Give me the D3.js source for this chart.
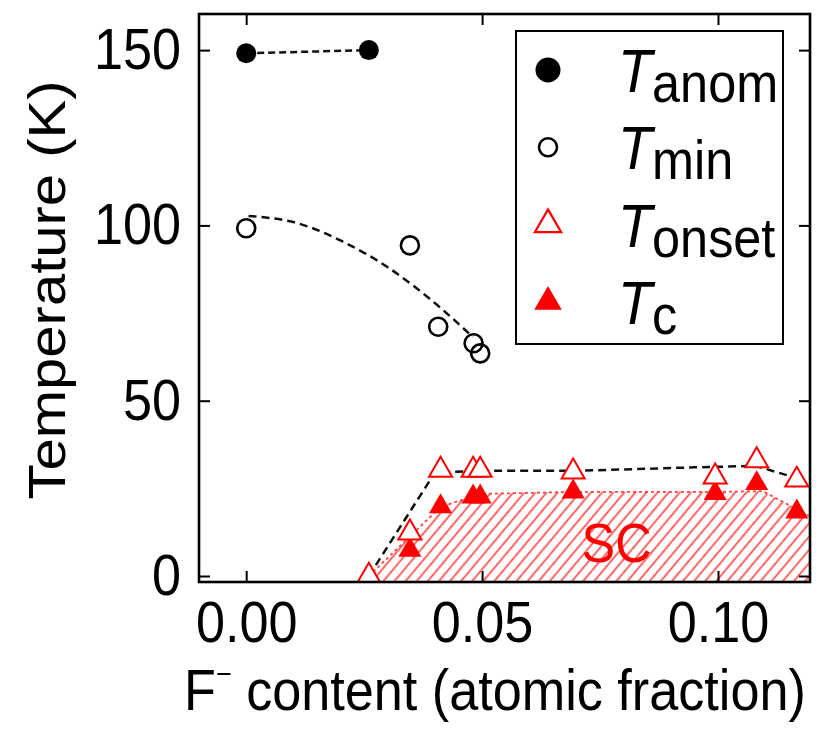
<!DOCTYPE html>
<html>
<head>
<meta charset="utf-8">
<script src="https://cdn.jsdelivr.net/npm/d3@7"></script>
<style>
  body { margin: 0; background: #fff; }
  svg { display: block; font-family: "Liberation Sans", Arial, sans-serif; }
</style>
</head>
<body>
<svg id="chart" width="818" height="734"></svg>
<script>
// tick values
const xTicks = [0, 0.05, 0.10];
const yTicks = [0, 50, 100, 150];

// T_anom (filled black circles)
const anomX = [0, 0.026];
const anomY = [149.1, 150];

// T_min (open black circles)
const minX = [0, 0.0347, 0.0407, 0.0482, 0.0496];
const minY = [99.2, 94.3, 71.1, 66.4, 63.5];

// T_onset (open red triangles)
const onsetX = [0.026, 0.0347, 0.0412, 0.0481, 0.0496, 0.0693, 0.0994, 0.1082, 0.1167];
const onsetY = [0, 12.3, 30.2, 30.2, 30.2, 29.7, 28.3, 32.9, 27.4];

// T_c (filled red triangles)
const tcX = [0.0347, 0.0412, 0.0481, 0.0496, 0.0693, 0.0994, 0.1082, 0.1167];
const tcY = [7.4, 19.8, 22.6, 22.6, 24.0, 23.6, 26.4, 18.3];

// guide lines
const minGuideX = [0.0005, 0.0104, 0.0203, 0.0303, 0.0403, 0.048];
const minGuideY = [102.7, 100.8, 95.5, 87.8, 77.5, 68.2];
const onsetGuideX = [0.026, 0.040, 0.050, 0.070, 0.095, 0.108, 0.117];
const onsetGuideY = [0, 29.5, 30, 30, 31, 31.4, 27.8];
const scGuideX = [0.026, 0.0412, 0.0496, 0.070, 0.100, 0.1095, 0.1195];
const scGuideY = [0, 19.7, 23.4, 24, 24, 24.2, 17];

const legendNames = ["anom", "min", "onset", "c"];

const zip = (xs, ys) => xs.map((v, i) => ({ x: v, y: ys[i] }));

const svg = d3.select("#chart");
const pLeft = 199, pRight = 810, pTop = 14, pBottom = 582;
const SQ = 0.9; // text in the figure is slightly narrow

const x = d3.scaleLinear().domain([-0.0100, 0.1195]).range([pLeft, pRight]);
const y = d3.scaleLinear().domain([-1.71, 160.3]).range([pBottom, pTop]);

const defs = svg.append("defs");
defs.append("clipPath").attr("id", "clip")
  .append("rect").attr("x", pLeft).attr("y", pTop)
  .attr("width", pRight - pLeft).attr("height", pBottom - pTop);

const pat = defs.append("pattern")
  .attr("id", "hatch")
  .attr("patternUnits", "userSpaceOnUse")
  .attr("width", 8.5).attr("height", 8.5)
  .attr("patternTransform", "rotate(40)");
pat.append("line")
  .attr("x1", 4.25).attr("y1", 0).attr("x2", 4.25).attr("y2", 8.5)
  .attr("stroke", "#ff3c3c").attr("stroke-width", 1.6);

const plot = svg.append("g").attr("clip-path", "url(#clip)");

// SC hatched area
const area = d3.area()
  .x(d => x(d.x))
  .y0(y(y.domain()[0]))
  .y1(d => y(d.y));
const scData = zip(scGuideX, scGuideY);
scData.push({ x: x.domain()[1] + 0.002, y: scGuideY[scGuideY.length - 1] });
plot.append("path")
  .datum(scData)
  .attr("fill", "url(#hatch)")
  .attr("d", area);

const line = d3.line().x(d => x(d.x)).y(d => y(d.y));

plot.append("path")
  .datum(zip(scGuideX, scGuideY))
  .attr("fill", "none")
  .attr("stroke", "#ff4040")
  .attr("stroke-width", 1.8)
  .attr("stroke-dasharray", "3,3")
  .attr("d", line);

plot.append("path")
  .datum(zip(onsetGuideX, onsetGuideY))
  .attr("fill", "none")
  .attr("stroke", "#111")
  .attr("stroke-width", 2.5)
  .attr("stroke-dasharray", "8,5")
  .attr("d", line);

plot.append("path")
  .datum(zip(minGuideX, minGuideY))
  .attr("fill", "none")
  .attr("stroke", "#111")
  .attr("stroke-width", 2.5)
  .attr("stroke-dasharray", "8,5")
  .attr("d", d3.line().x(d => x(d.x)).y(d => y(d.y)).curve(d3.curveNatural));

plot.append("path")
  .datum(zip(anomX, anomY))
  .attr("fill", "none")
  .attr("stroke", "#111")
  .attr("stroke-width", 2.5)
  .attr("stroke-dasharray", "7,4")
  .attr("d", line);

// markers
plot.selectAll(".anom")
  .data(zip(anomX, anomY))
  .enter().append("circle")
  .attr("cx", d => x(d.x)).attr("cy", d => y(d.y))
  .attr("r", 10).attr("fill", "#000");

plot.selectAll(".min")
  .data(zip(minX, minY))
  .enter().append("circle")
  .attr("cx", d => x(d.x)).attr("cy", d => y(d.y))
  .attr("r", 9).attr("fill", "none")
  .attr("stroke", "#000").attr("stroke-width", 2.6);

const tri = d3.symbol().type(d3.symbolTriangle).size(230);

plot.selectAll(".tc")
  .data(zip(tcX, tcY))
  .enter().append("path")
  .attr("transform", d => `translate(${x(d.x)},${y(d.y)})`)
  .attr("d", tri)
  .attr("fill", "#ff0000");

plot.selectAll(".onset")
  .data(zip(onsetX, onsetY))
  .enter().append("path")
  .attr("transform", d => `translate(${x(d.x)},${y(d.y)})`)
  .attr("d", tri)
  .attr("fill", "#fff")
  .attr("stroke", "#ff0000").attr("stroke-width", 2);

// SC label
svg.append("text")
  .attr("transform", `translate(${x(0.0785)},${y(4)}) scale(${SQ},1)`)
  .attr("text-anchor", "middle")
  .attr("font-size", 56)
  .attr("fill", "#ff0000")
  .text("SC");

// axes, ticks pointing inward on all four sides
const styleAxis = g => {
  g.select(".domain").remove();
  g.selectAll("line").attr("stroke", "#000").attr("stroke-width", 2);
  g.selectAll("text").attr("font-size", 58).attr("fill", "#000")
    .attr("font-family", "Liberation Sans, Arial, sans-serif")
    .attr("transform", `scale(${SQ},1)`);
};

svg.append("g").attr("transform", `translate(0,${pBottom})`)
  .call(d3.axisBottom(x).tickValues(xTicks).tickFormat(d3.format(".2f"))
    .tickSizeInner(-11).tickSizeOuter(0).tickPadding(19))
  .call(styleAxis);
svg.append("g").attr("transform", `translate(${pLeft},0)`)
  .call(d3.axisLeft(y).tickValues(yTicks).tickFormat(d3.format("d"))
    .tickSizeInner(-11).tickSizeOuter(0).tickPadding(20))
  .call(styleAxis);
svg.append("g").attr("transform", `translate(0,${pTop})`)
  .call(d3.axisTop(x).tickValues(xTicks).tickFormat("")
    .tickSizeInner(-11).tickSizeOuter(0))
  .call(styleAxis);
svg.append("g").attr("transform", `translate(${pRight},0)`)
  .call(d3.axisRight(y).tickValues(yTicks).tickFormat("")
    .tickSizeInner(-11).tickSizeOuter(0))
  .call(styleAxis);

svg.append("rect")
  .attr("x", pLeft).attr("y", pTop)
  .attr("width", pRight - pLeft).attr("height", pBottom - pTop)
  .attr("fill", "none").attr("stroke", "#000").attr("stroke-width", 2.6);

// axis titles
svg.append("text")
  .attr("transform", `translate(65,290) scale(${SQ},1) rotate(-90)`)
  .attr("text-anchor", "middle")
  .attr("font-size", 58)
  .text("Temperature (K)");

const xt = svg.append("text")
  .attr("transform", `translate(184,710) scale(${SQ},1)`)
  .attr("font-size", 58);
xt.append("tspan").text("F");
xt.append("tspan").attr("font-size", 30).attr("dy", -26).text("\u2212");
xt.append("tspan").attr("font-size", 58).attr("dy", 26).text(" content (atomic fraction)");

// legend
const lg = svg.append("g");
lg.append("rect")
  .attr("x", 516).attr("y", 31).attr("width", 267).attr("height", 313)
  .attr("fill", "#fff").attr("stroke", "#000").attr("stroke-width", 2);

const rowY = i => 70 + i * 77.3;
lg.append("circle").attr("cx", 548).attr("cy", rowY(0)).attr("r", 12.5).attr("fill", "#000");
lg.append("circle").attr("cx", 548).attr("cy", rowY(1)).attr("r", 9)
  .attr("fill", "none").attr("stroke", "#000").attr("stroke-width", 2.6);
lg.append("path").attr("transform", `translate(548,${rowY(2)})`)
  .attr("d", d3.symbol().type(d3.symbolTriangle).size(300))
  .attr("fill", "#fff").attr("stroke", "#ff0000").attr("stroke-width", 2.2);
lg.append("path").attr("transform", `translate(548,${rowY(3)})`)
  .attr("d", d3.symbol().type(d3.symbolTriangle).size(330))
  .attr("fill", "#ff0000");

legendNames.forEach((name, i) => {
  const t = lg.append("text")
    .attr("transform", `translate(618,${rowY(i) + 22}) scale(${SQ},1)`)
    .attr("font-size", 62);
  t.append("tspan").attr("font-style", "italic").text("T");
  t.append("tspan").attr("font-size", 56).attr("dy", 10).text(name);
});
</script>
</body>
</html>
